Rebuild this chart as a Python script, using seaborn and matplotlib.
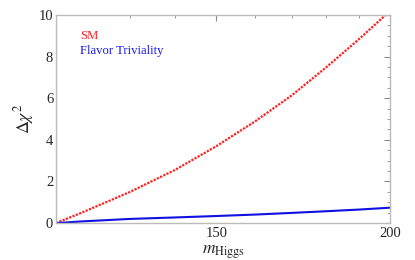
import matplotlib
matplotlib.use("Agg")
import matplotlib.pyplot as plt
import seaborn as sns
import pandas as pd
from matplotlib.ticker import FixedLocator, FixedFormatter, NullFormatter, MultipleLocator

# values (x axis is logarithmic)
m_higgs = [115, 120, 130, 140, 150, 160, 170, 180, 190, 200]
chi2_sm = [0.0, 0.5, 1.5, 2.55, 3.7, 4.9, 6.15, 7.5, 8.85, 10.2]
chi2_ft = [0.0, 0.08, 0.2, 0.27, 0.34, 0.41, 0.49, 0.57, 0.65, 0.74]
x_major = [150, 200]
x_minor = [130, 140, 160, 170, 180, 190]

df = pd.DataFrame({"m": m_higgs, "SM": chi2_sm, "FT": chi2_ft})

sns.set_style("white")
plt.rcParams["font.family"] = ["Liberation Serif", "DejaVu Serif"]
plt.rcParams["mathtext.fontset"] = "stix"

fig, ax = plt.subplots(figsize=(4.15, 2.6), dpi=100)
fig.subplots_adjust(left=0.135, right=0.94, top=0.942, bottom=0.142)

sns.lineplot(data=df, x="m", y="SM", ax=ax, color="#ff2020", lw=1.6,
             linestyle=(0, (1, 0.6)))
sns.lineplot(data=df, x="m", y="FT", ax=ax, color="#1010e0", lw=1.5)

ax.set_xscale("log")
ax.set_xlim(115, 200)
ax.set_ylim(0, 10)
ax.xaxis.set_major_locator(FixedLocator(x_major))
ax.xaxis.set_major_formatter(FixedFormatter([str(v) for v in x_major]))
ax.xaxis.set_minor_locator(FixedLocator(x_minor))
ax.xaxis.set_minor_formatter(NullFormatter())
ax.yaxis.set_major_locator(MultipleLocator(2))
ax.yaxis.set_minor_locator(MultipleLocator(0.5))
ax.tick_params(which="both", direction="in", top=True, right=True,
               color="#888888", labelsize=10.5, pad=3)
ax.tick_params(which="major", length=4, width=0.8)
ax.tick_params(which="minor", length=2, width=0.6)
ax.tick_params(axis="y", pad=2)
for s in ax.spines.values():
    s.set_color("#bbbbbb")
    s.set_linewidth(1.0)

ax.set_xlabel(r"$m_{\mathrm{Higgs}}$", fontsize=12.5, labelpad=2)
ax.set_ylabel(r"$\Delta\chi^2$", fontsize=13, labelpad=2)

ax.text(0.072, 0.885, "SM", color="#ff2020", fontsize=9.2, transform=ax.transAxes)
ax.text(0.072, 0.815, "Flavor Triviality", color="#1a1ae8", fontsize=9.2,
        transform=ax.transAxes)

fig.savefig("out.png", dpi=100)
